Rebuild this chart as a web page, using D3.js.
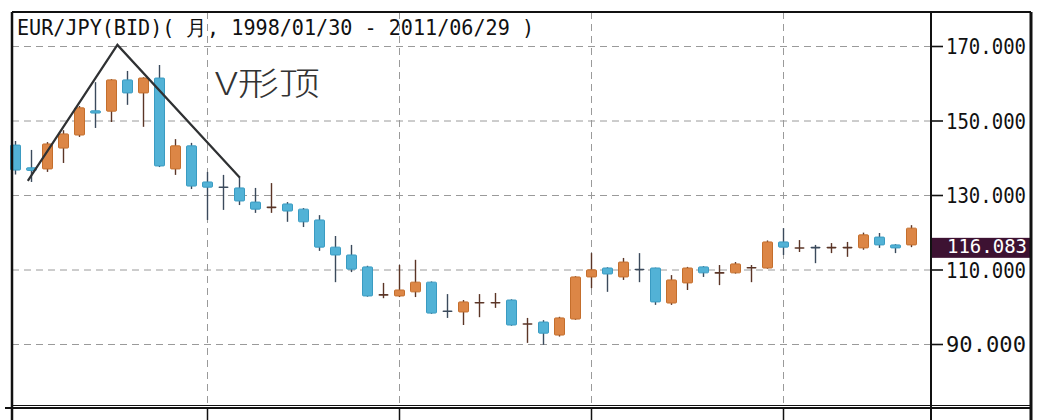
<!DOCTYPE html>
<html>
<head>
<meta charset="utf-8">
<script src="https://cdn.jsdelivr.net/npm/d3@7"></script>
<style>
  body { margin: 0; background: #fff; }
  svg { display: block; }
</style>
</head>
<body>
<div id="chart"></div>
<script>
// monthly-ish candles
let opens  = [143.4,137.3,137.0,142.6,146.1,152.6,152.5,160.9,157.4,161.4,137.0,143.2,133.5,132.3,131.9,128.1,126.8,127.6,126.2,123.3,
              116.0,113.9,110.7,103.3,102.9,104.0,106.6,99.0,98.6,101.2,101.2,101.8,95.5,95.9,92.4,96.7,108.0,110.4,108.0,110.2,
              110.4,101.0,106.4,110.7,109.2,109.1,110.6,110.4,117.4,115.9,116.1,116.0,116.0,115.8,118.7,116.6,116.6];
let highs  = [144.5,142.1,144.2,147.4,153.9,160.3,161.1,163.3,161.6,164.9,145.0,144.0,136.2,135.4,134.6,131.9,133.2,128.1,126.5,124.6,
              119.0,116.6,111.0,106.4,111.2,112.6,106.8,103.4,101.8,103.4,103.7,102.0,97.0,96.4,97.3,108.2,114.4,110.6,113.1,114.4,
              110.5,108.5,110.7,110.9,111.2,112.0,111.2,117.8,121.1,117.9,116.6,117.1,117.4,119.9,119.8,116.8,121.9];
let lows   = [135.5,133.5,136.2,138.6,145.6,148.0,149.6,154.2,148.3,137.5,135.4,131.6,123.3,126.0,127.3,125.2,125.2,122.8,121.4,115.0,
              106.6,109.3,102.7,102.3,102.6,102.6,98.1,97.0,95.1,97.2,99.7,94.9,90.3,89.8,92.0,96.5,105.0,104.0,107.2,106.6,
              100.5,100.5,104.5,108.0,105.8,108.9,106.6,110.2,113.9,114.7,111.7,114.4,113.4,115.3,115.8,114.4,116.0];
let closes = [136.7,136.6,143.7,146.4,153.4,152.0,160.9,157.4,161.4,137.8,143.2,132.4,132.1,132.2,128.4,126.2,126.9,125.7,122.8,116.0,
              113.9,110.1,102.9,103.4,104.5,106.6,98.3,98.9,101.3,101.3,101.3,95.1,95.6,92.9,97.0,108.0,109.9,108.8,112.0,110.1,
              101.3,107.2,110.4,109.1,109.3,111.5,110.7,117.4,116.0,116.0,116.0,116.1,116.1,119.3,116.6,115.8,121.1];

let priceTicks = [90, 110, 130, 150, 170];
let gridCandles = [12, 24, 36, 48];
let lastBid = 116.083;

// hand-drawn "V top" line: candle index / price
let trendIdx = [0.8, 6.4, 14.06];
let trendVal = [133.8, 170.3, 134.6];

let titleText = 'EUR/JPY(BID)( 月, 1998/01/30 - 2011/06/29 )';
let noteText = 'V形顶';

let width = 1046, height = 420;
let frame = {left: 12, top: 12, right: 1031, plotRight: 931, plotBottom: 405};

let svg = d3.select('#chart').append('svg')
  .attr('width', width)
  .attr('height', height);

let data = opens.map((o, i) => ({i: i, o: o, h: highs[i], l: lows[i], c: closes[i]}));

let x = d3.scaleLinear().domain([0, 56]).range([15, 911]),
    y = d3.scaleLinear().domain([90, 170]).range([344, 46]);

let mono = '"DejaVu Sans Mono", "Liberation Mono", monospace';

// grid
svg.append('g')
  .selectAll('line')
  .data(priceTicks)
  .enter().append('line')
    .attr('x1', frame.left).attr('x2', frame.plotRight)
    .attr('y1', d => y(d) + 0.5).attr('y2', d => y(d) + 0.5)
    .attr('stroke', '#9a9a9a')
    .attr('stroke-dasharray', '7,5');

svg.append('g')
  .selectAll('line')
  .data(gridCandles)
  .enter().append('line')
    .attr('x1', d => x(d) + 0.5).attr('x2', d => x(d) + 0.5)
    .attr('y1', frame.top).attr('y2', frame.plotBottom)
    .attr('stroke', '#9a9a9a')
    .attr('stroke-dasharray', '7,5');

// candles
let up = d => d.c >= d.o;
let bodyFill = d => up(d) ? '#dc8646' : '#52b2d6',
    bodyLine = d => up(d) ? '#c46e2c' : '#3a9bc2',
    wickCol = d => up(d) ? '#5b3526' : '#3b4a5c';

let candles = svg.append('g').selectAll('g')
  .data(data)
  .enter().append('g');

candles.append('line')
  .attr('x1', d => x(d.i) + 0.5).attr('x2', d => x(d.i) + 0.5)
  .attr('y1', d => y(d.h)).attr('y2', d => y(d.l))
  .attr('stroke', wickCol)
  .attr('stroke-width', 1.4);

candles.append('rect')
  .attr('x', d => x(d.i) - 4.5)
  .attr('width', 10)
  .attr('y', d => y(Math.max(d.o, d.c)))
  .attr('height', d => Math.max(1.6, Math.abs(y(d.o) - y(d.c))))
  .attr('fill', d => Math.abs(y(d.o) - y(d.c)) < 2 ? wickCol(d) : bodyFill(d))
  .attr('stroke', d => Math.abs(y(d.o) - y(d.c)) < 2 ? 'none' : bodyLine(d))
  .attr('stroke-width', 1)
  .attr('rx', 1);

// trend line
svg.append('path')
  .datum(trendIdx.map((t, k) => [t, trendVal[k]]))
  .attr('d', d3.line().x(d => x(d[0])).y(d => y(d[1])))
  .attr('fill', 'none')
  .attr('stroke', '#2f3133')
  .attr('stroke-width', 2.2);

svg.append('text')
  .attr('x', 215).attr('y', 95)
  .attr('font-family', '"Noto Sans CJK SC", "Noto Sans", sans-serif')
  .attr('font-weight', 200)
  .attr('font-size', 32)
  .attr('fill', '#333')
  .attr('textLength', 105)
  .attr('lengthAdjust', 'spacingAndGlyphs')
  .text(noteText);

// right price axis
let yAxis = d3.axisRight(y)
  .tickValues(priceTicks)
  .tickFormat(d3.format('.3f'))
  .tickSize(12)
  .tickPadding(3);

let ax = svg.append('g')
  .attr('transform', 'translate(' + frame.plotRight + ',0)')
  .call(yAxis);

ax.select('.domain').remove();
ax.selectAll('.tick line').attr('stroke', '#111').attr('stroke-width', 1.6);
ax.selectAll('.tick text')
  .attr('font-family', mono)
  .attr('font-size', 22)
  .attr('dy', '0.36em')
  .attr('fill', '#111')
  .attr('textLength', 80)
  .attr('lengthAdjust', 'spacingAndGlyphs');

// last bid marker
svg.append('rect')
  .attr('x', frame.plotRight).attr('width', frame.right - frame.plotRight)
  .attr('y', y(lastBid) - 9).attr('height', 20)
  .attr('fill', '#3d1232');

svg.append('text')
  .attr('x', 947).attr('y', y(lastBid) + 6)
  .attr('font-family', mono)
  .attr('font-size', 20)
  .attr('fill', '#fff')
  .attr('textLength', 80)
  .attr('lengthAdjust', 'spacingAndGlyphs')
  .text(d3.format('.3f')(lastBid));

// title
svg.append('text')
  .attr('x', 17).attr('y', 35)
  .attr('font-family', mono)
  .attr('font-size', 20.5)
  .attr('fill', '#111')
  .attr('textLength', 517)
  .attr('lengthAdjust', 'spacingAndGlyphs')
  .text(titleText);

// frame
let fr = svg.append('g').attr('stroke', '#111').attr('fill', 'none');
fr.append('line').attr('x1', frame.left).attr('x2', frame.left).attr('y1', frame.top).attr('y2', height).attr('stroke-width', 2.5);
fr.append('line').attr('x1', frame.left).attr('x2', frame.right).attr('y1', frame.top).attr('y2', frame.top).attr('stroke-width', 2);
fr.append('line').attr('x1', frame.right).attr('x2', frame.right).attr('y1', frame.top).attr('y2', height).attr('stroke-width', 3);
fr.append('line').attr('x1', frame.plotRight).attr('x2', frame.plotRight).attr('y1', frame.top).attr('y2', height).attr('stroke-width', 2);
fr.append('line').attr('x1', frame.left).attr('x2', frame.right).attr('y1', frame.plotBottom + 0.5).attr('y2', frame.plotBottom + 0.5).attr('stroke-width', 1);
fr.append('line').attr('x1', 5).attr('x2', frame.right).attr('y1', 408).attr('y2', 408).attr('stroke-width', 2);
fr.selectAll('.sep')
  .data(gridCandles)
  .enter().append('line')
    .attr('x1', d => x(d) + 0.5).attr('x2', d => x(d) + 0.5)
    .attr('y1', 408).attr('y2', height)
    .attr('stroke-width', 1.5);
</script>
</body>
</html>
